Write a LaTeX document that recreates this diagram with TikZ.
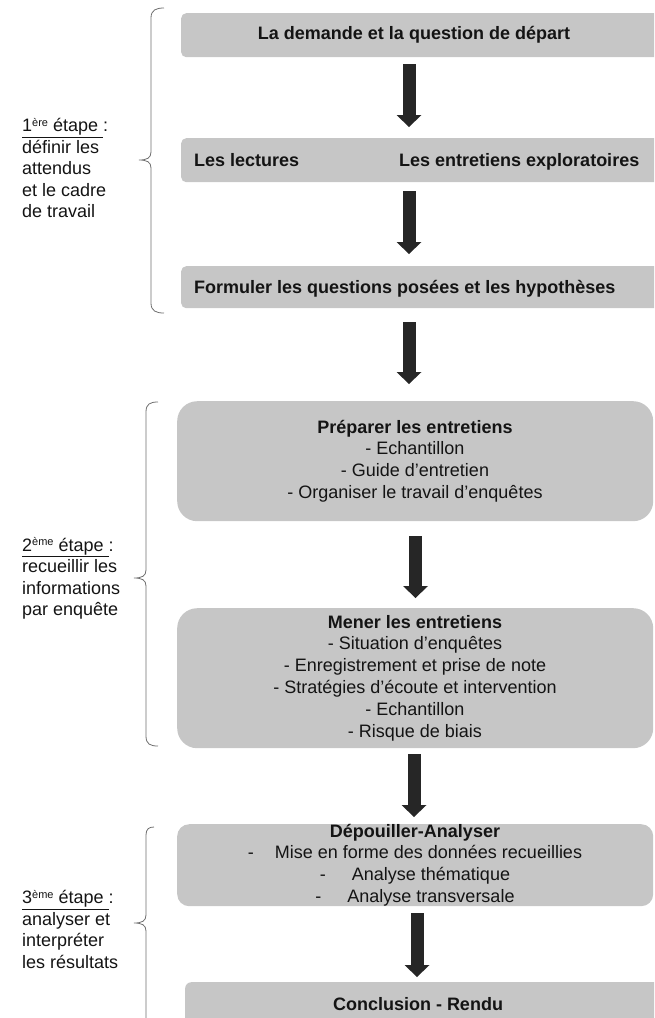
\documentclass[tikz,border=0pt]{standalone}
\usepackage{fontspec}
\setmainfont{Liberation Sans}
\usetikzlibrary{arrows.meta}
\definecolor{boxgray}{RGB}{198,198,198}
\definecolor{arrowc}{RGB}{38,38,38}
\definecolor{bracec}{RGB}{110,110,110}
\definecolor{txt}{RGB}{20,20,20}
\newcommand\supx[1]{\raisebox{5.5pt}{\fontsize{11pt}{11pt}\selectfont #1}}
\begin{document}
\begin{tikzpicture}[x=1pt,y=-1pt]
\tikzset{
 box/.style={fill=boxgray, draw=none, anchor=north west, inner sep=0pt},
 lbl/.style={font=\fontsize{18pt}{21.8pt}\selectfont, text=txt, inner sep=0pt, align=center},
 lblw/.style={font=\fontsize{18pt}{21.8pt}\selectfont\bfseries, text=txt, inner sep=0pt, anchor=base west},
 side/.style={font=\fontsize{18pt}{21.5pt}\selectfont, text=txt, inner sep=0pt, align=left, anchor=west},
 bigarrow/.style={draw=arrowc, line width=13pt, -{Triangle[width=25pt 0 0, length=12pt 0 0, line width=0pt 0 0]}},
 brace/.style={draw=bracec, line width=0.8pt}
}
\useasboundingbox (0,0) rectangle (654,1018);
\clip (0,0) rectangle (654,1018);

% boxes
\node[box, rounded corners=5pt, minimum width=480pt, minimum height=44pt] (b1) at (181,13) {};
\node[box, rounded corners=5pt, minimum width=480pt, minimum height=44pt] (b2) at (181,138) {};
\node[box, rounded corners=5pt, minimum width=480pt, minimum height=42pt] (b3) at (181,266) {};
\node[box, rounded corners=20pt, minimum width=476pt, minimum height=120pt] (b4) at (177,401) {};
\node[box, rounded corners=20pt, minimum width=476pt, minimum height=140pt] (b5) at (177,608) {};
\node[box, rounded corners=12pt, minimum width=476pt, minimum height=82pt] (b6) at (177,824) {};
\node[box, rounded corners=6pt, minimum width=480pt, minimum height=50pt] (b7) at (185,982) {};

% box texts
\node[lbl] (t1) at (414,35) {\bfseries La demande et la question de départ};
\node[lblw] (t2a) at (194,166.5) {Les lectures};
\node[lblw] (t2b) at (399,166.5) {Les entretiens exploratoires};
\node[lblw] (t3) at (194,293.5) {Formuler les questions posées et les hypothèses};
\node[lbl] (t4) at (415,461) {\textbf{Préparer les entretiens}\\- Echantillon\\- Guide d’entretien\\- Organiser le travail d’enquêtes};
\node[lbl] (t5) at (415,678) {\textbf{Mener les entretiens}\\- Situation d’enquêtes\\- Enregistrement et prise de note\\- Stratégies d’écoute et intervention\\- Echantillon\\- Risque de biais};
\node[lbl] (t6) at (415,865) {\textbf{Dépouiller-Analyser}\\-\hspace{21pt}Mise en forme des données recueillies\\-\hspace{26pt}Analyse thématique\\-\hspace{26pt}Analyse transversale};
\node[lbl] (t7) at (418,1004) {\bfseries Conclusion - Rendu};

% arrows
\coordinate (x1) at (409,0);
\coordinate (x4) at (415.5,0);
\coordinate (x5) at (414,0);
\coordinate (x6) at (417,0);
\draw[bigarrow] ([yshift=-7pt]b1.south -| x1) -- ([yshift=11pt]b2.north -| x1);
\draw[bigarrow] ([yshift=-9pt]b2.south -| x1) -- ([yshift=12pt]b3.north -| x1);
\draw[bigarrow] ([yshift=-14pt]b3.south -| x1) -- ([yshift=17pt]b4.north -| x1);
\draw[bigarrow] ([yshift=-15pt]b4.south -| x4) -- ([yshift=10pt]b5.north -| x4);
\draw[bigarrow] ([yshift=-6pt]b5.south -| x5) -- ([yshift=7pt]b6.north -| x5);
\draw[bigarrow] ([yshift=-7pt]b6.south -| x6) -- ([yshift=5pt]b7.north -| x6);

% braces
\draw[brace] (164,8) .. controls (156,8) and (151,10) .. (151,18) -- (151,152)
  .. controls (151,158) and (147,160) .. (139,160)
  .. controls (147,160) and (151,162) .. (151,168) -- (151,303)
  .. controls (151,311) and (156,313) .. (164,313);
\draw[brace] (158,402) .. controls (150,402) and (146,404) .. (146,412) -- (146,570)
  .. controls (146,576) and (142,578) .. (134,578)
  .. controls (142,578) and (146,580) .. (146,586) -- (146,736)
  .. controls (146,744) and (150,746) .. (158,746);
\draw[brace] (154,827) .. controls (149,827) and (146,829) .. (146,835) -- (146,915)
  .. controls (146,921) and (142,923) .. (134,923)
  .. controls (142,923) and (146,925) .. (146,931) -- (146,1030);

% side labels
\node[side] (s1) at (22,168) {\underline{1\supx{ère} étape\ }:\\définir les\\attendus\\et le cadre\\de travail};
\node[side] (s2) at (22,578.5) {\underline{2\supx{ème} étape\ }:\\recueillir les\\informations\\par enquête};
\node[side] (s3) at (22,929.5) {\underline{3\supx{ème} étape\ }:\\analyser et\\interpréter\\les résultats};
\end{tikzpicture}
\end{document}
